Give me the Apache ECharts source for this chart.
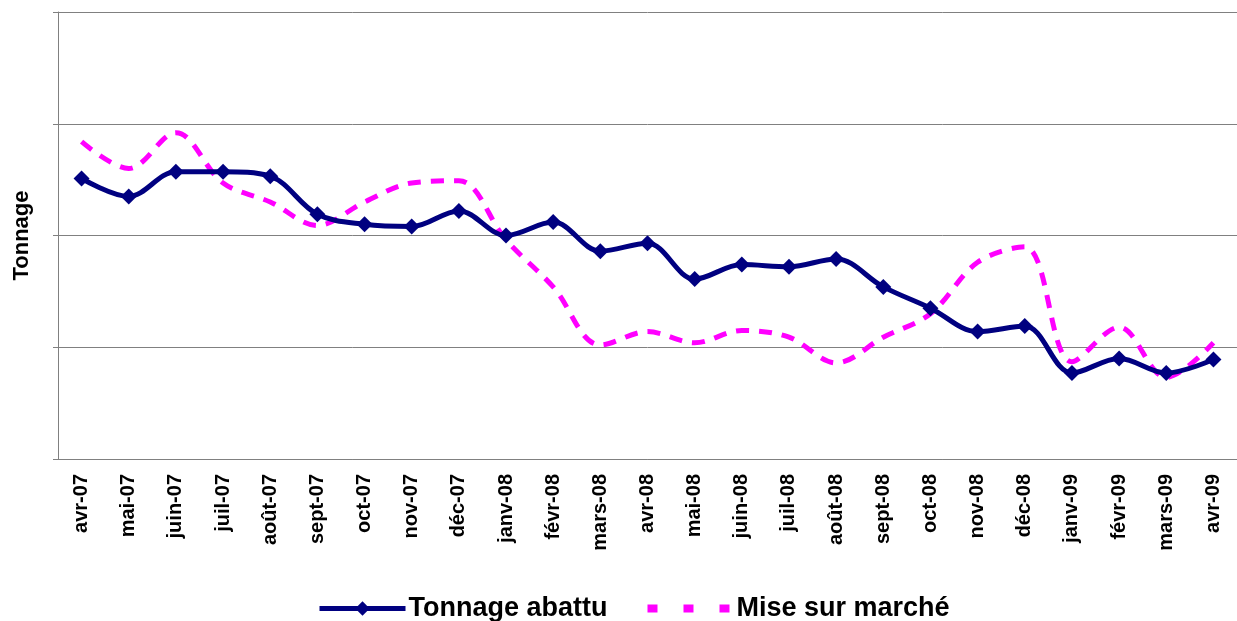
<!DOCTYPE html>
<html>
<head>
<meta charset="utf-8">
<script src="https://cdn.jsdelivr.net/npm/echarts@6/dist/echarts.min.js"></script>
<style>
  html, body { margin: 0; padding: 0; background: #fff; }
  #chart { width: 1237px; height: 621px; }
</style>
</head>
<body>
<div id="chart"></div>
<script>
const months = ['avr-07', 'mai-07', 'juin-07', 'juil-07', 'août-07', 'sept-07', 'oct-07', 'nov-07', 'déc-07',
  'janv-08', 'févr-08', 'mars-08', 'avr-08', 'mai-08', 'juin-08', 'juil-08', 'août-08', 'sept-08', 'oct-08',
  'nov-08', 'déc-08', 'janv-09', 'févr-09', 'mars-09', 'avr-09']

// no values printed on the y axis: read in grid units (0..4)
const tonnageAbattu = [2.51, 2.35, 2.57, 2.57, 2.53, 2.19, 2.10, 2.08, 2.22,
  2.00, 2.12, 1.86, 1.93, 1.61, 1.74, 1.72, 1.79, 1.54, 1.35,
  1.14, 1.19, 0.77, 0.90, 0.77, 0.89]
const miseSurMarche = [2.84, 2.60, 2.92, 2.47, 2.30, 2.09, 2.30, 2.47, 2.49,
  1.96, 1.54, 1.02, 1.14, 1.04, 1.15, 1.09, 0.86, 1.09, 1.30,
  1.76, 1.90, 0.87, 1.18, 0.73, 1.04]

const font = '"Liberation Sans", Arial, sans-serif'

const myChart = echarts.init(document.getElementById('chart'))
myChart.setOption({
  animation: false,
  grid: {
    left: 58,
    right: -11,
    top: 12,
    bottom: 162
  },
  legend: {
    top: 595,
    left: 317,
    padding: 0,
    itemWidth: 86,
    itemHeight: 18,
    itemGap: 36,
    textStyle: {
      fontFamily: font,
      fontWeight: 'bold',
      fontSize: 27,
      color: '#000',
      padding: [0, 0, 0, -2]
    },
    data: [
      {
        name: 'Tonnage abattu',
        lineStyle: { width: 5 }
      },
      {
        name: 'Mise sur marché',
        itemStyle: { opacity: 0 },
        lineStyle: { width: 8, type: [10, 26] }
      }
    ]
  },
  xAxis: {
    type: 'category',
    boundaryGap: true,
    data: months,
    axisLine: { lineStyle: { color: '#808080', width: 1 } },
    axisTick: { length: 5, lineStyle: { color: '#808080' } },
    axisLabel: {
      rotate: 90,
      margin: 15,
      interval: 0,
      fontFamily: font,
      fontWeight: 'bold',
      fontSize: 20,
      color: '#000'
    }
  },
  yAxis: {
    type: 'value',
    min: 0,
    max: 4,
    interval: 1,
    name: 'Tonnage',
    nameLocation: 'middle',
    nameRotate: 90,
    nameGap: 25,
    nameTextStyle: {
      fontFamily: font,
      fontWeight: 'bold',
      fontSize: 22,
      color: '#000'
    },
    axisLine: { show: true, lineStyle: { color: '#808080', width: 1 } },
    axisTick: { show: true, length: 5, lineStyle: { color: '#808080' } },
    axisLabel: { show: false },
    splitLine: { lineStyle: { color: '#808080', width: 1 } }
  },
  series: [
    {
      name: 'Tonnage abattu',
      type: 'line',
      data: tonnageAbattu,
      smooth: 0.35,
      symbol: 'diamond',
      symbolSize: 16,
      color: '#000080',
      itemStyle: { color: '#000080' },
      lineStyle: { color: '#000080', width: 5 },
      z: 3
    },
    {
      name: 'Mise sur marché',
      type: 'line',
      data: miseSurMarche,
      smooth: 0.35,
      symbol: 'none',
      color: '#FF00FF',
      itemStyle: { color: '#FF00FF' },
      lineStyle: { color: '#FF00FF', width: 5, type: [13, 10] },
      z: 2
    }
  ]
})
</script>
</body>
</html>
